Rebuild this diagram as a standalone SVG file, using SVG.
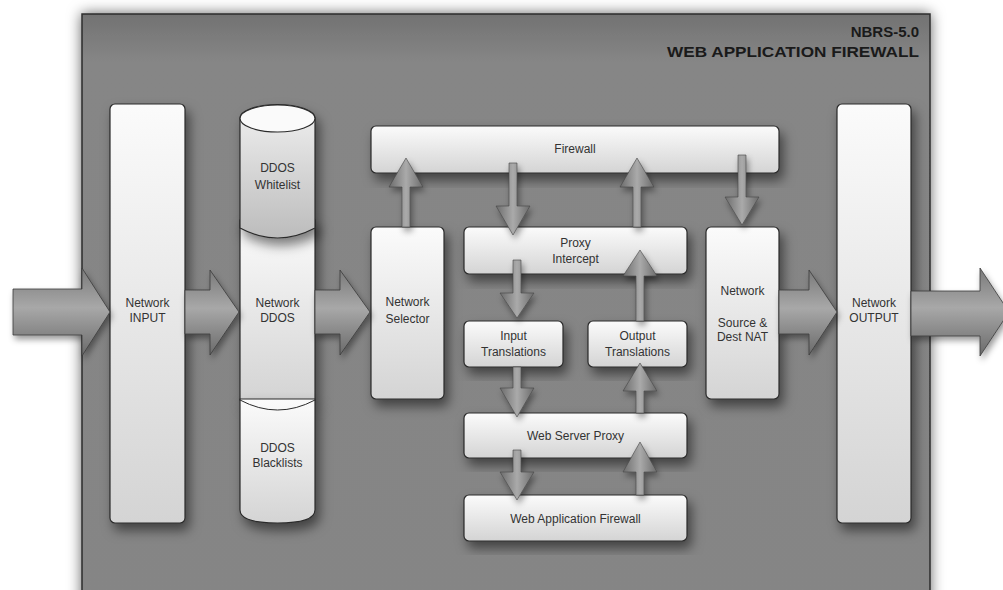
<svg xmlns="http://www.w3.org/2000/svg" width="1003" height="590" viewBox="0 0 1003 590">
<defs>
<style>
.box{fill:url(#boxg);stroke:#2a2a2a;stroke-width:1.2;filter:url(#sh)}
.lbl{font-family:"Liberation Sans",Arial,sans-serif;font-size:12px;fill:#333;text-anchor:middle}
.big{fill:url(#bigg);stroke:#3a3a3a;stroke-width:0.8;filter:url(#ash)}
.sm{fill:url(#smg);stroke:#444;stroke-width:0.6;filter:url(#ash)}
.title{font-family:"Liberation Sans",Arial,sans-serif;font-weight:bold;font-size:15px;fill:#1a1a1a;text-anchor:end}
</style>
<linearGradient id="boxg" x1="0" y1="0" x2="0" y2="1">
<stop offset="0" stop-color="#fbfbfb"/><stop offset="1" stop-color="#d4d4d4"/>
</linearGradient>
<linearGradient id="wlg" x1="0" y1="0" x2="0" y2="1">
<stop offset="0" stop-color="#f0f0f0"/><stop offset="1" stop-color="#bcbcbc"/>
</linearGradient>
<linearGradient id="panelg" x1="0" y1="0" x2="0" y2="1">
<stop offset="0" stop-color="#727272"/><stop offset="0.08" stop-color="#868686"/><stop offset="1" stop-color="#858585"/>
</linearGradient>
<linearGradient id="bigg" x1="0" y1="0" x2="0" y2="1">
<stop offset="0" stop-color="#7a7a7a"/><stop offset="0.45" stop-color="#a8a8a8"/><stop offset="1" stop-color="#6a6a6a"/>
</linearGradient>
<linearGradient id="smg" x1="0" y1="0" x2="1" y2="0">
<stop offset="0" stop-color="#6c6c6c"/><stop offset="0.5" stop-color="#aaaaaa"/><stop offset="1" stop-color="#6c6c6c"/>
</linearGradient>
<filter id="sh" x="-30%" y="-30%" width="160%" height="160%">
<feDropShadow dx="4" dy="7" stdDeviation="6" flood-color="#000" flood-opacity="0.5"/>
</filter>
<filter id="ash" x="-30%" y="-30%" width="160%" height="160%">
<feDropShadow dx="2" dy="4" stdDeviation="3" flood-color="#000" flood-opacity="0.4"/>
</filter>
<filter id="psh" x="-10%" y="-10%" width="120%" height="120%">
<feDropShadow dx="0" dy="0" stdDeviation="7" flood-color="#000" flood-opacity="0.6"/>
</filter>
</defs>
<rect width="1003" height="590" fill="#ffffff"/>
<g id="panel">
<rect x="82" y="14" width="848" height="600" fill="url(#panelg)" stroke="#2e2e2e" stroke-width="1.5" filter="url(#psh)"/>
<text class="title" x="919" y="37">NBRS-5.0</text>
<text class="title" x="919" y="57" textLength="252" lengthAdjust="spacingAndGlyphs">WEB APPLICATION FIREWALL</text>
</g>
<g id="network-input">
<rect class="box" x="110" y="104" width="75" height="419" rx="5"/>
<text class="lbl" x="147.5" y="307">Network</text>
<text class="lbl" x="147.5" y="322">INPUT</text>
</g>
<g id="network-ddos">
<rect class="box" x="240" y="220" width="75" height="180"/>
<text class="lbl" x="277.5" y="307">Network</text>
<text class="lbl" x="277.5" y="322">DDOS</text>
</g>
<g id="ddos-blacklists">
<path d="M240,399 L315,399 L315,510 Q315,523 277.5,523 Q240,523 240,510 Z" fill="url(#boxg)" stroke="#2a2a2a" stroke-width="1.2" filter="url(#sh)"/>
<path d="M240,400 Q277.5,420 315,400" fill="none" stroke="#2a2a2a" stroke-width="1"/>
<text class="lbl" x="277.5" y="452">DDOS</text>
<text class="lbl" x="277.5" y="467">Blacklists</text>
</g>
<g id="ddos-whitelist">
<path d="M240,118 A37.5,13.5 0 0 1 315,118 L315,228 Q277.5,248 240,228 Z" fill="url(#wlg)" stroke="#2a2a2a" stroke-width="1.2" filter="url(#sh)"/>
<ellipse cx="277.5" cy="118.5" rx="37.5" ry="13.5" fill="#fafafa" stroke="#2a2a2a" stroke-width="1.2"/>
<text class="lbl" x="277.5" y="172">DDOS</text>
<text class="lbl" x="277.5" y="189">Whitelist</text>
</g>
<g id="network-selector">
<rect class="box" x="371" y="227" width="73" height="172" rx="5"/>
<text class="lbl" x="407.5" y="306">Network</text>
<text class="lbl" x="407.5" y="323">Selector</text>
</g>
<g id="firewall">
<rect class="box" x="371" y="126" width="408" height="47" rx="5"/>
<text class="lbl" x="575" y="153">Firewall</text>
</g>
<g id="proxy-intercept">
<rect class="box" x="464" y="227" width="223" height="47" rx="5"/>
<text class="lbl" x="575.5" y="247">Proxy</text>
<text class="lbl" x="575.5" y="263">Intercept</text>
</g>
<g id="network-nat">
<rect class="box" x="706" y="227" width="73" height="172" rx="5"/>
<text class="lbl" x="742.5" y="295">Network</text>
<text class="lbl" x="742.5" y="327">Source &amp;</text>
<text class="lbl" x="742.5" y="341">Dest NAT</text>
</g>
<g id="input-translations">
<rect class="box" x="464" y="321" width="99" height="46" rx="5"/>
<text class="lbl" x="513.5" y="340">Input</text>
<text class="lbl" x="513.5" y="356">Translations</text>
</g>
<g id="output-translations">
<rect class="box" x="588" y="321" width="99" height="46" rx="5"/>
<text class="lbl" x="637.5" y="340">Output</text>
<text class="lbl" x="637.5" y="356">Translations</text>
</g>
<g id="web-server-proxy">
<rect class="box" x="464" y="413" width="223" height="45" rx="5"/>
<text class="lbl" x="575.5" y="440">Web Server Proxy</text>
</g>
<g id="web-application-firewall">
<rect class="box" x="464" y="495" width="223" height="46" rx="5"/>
<text class="lbl" x="575.5" y="523">Web Application Firewall</text>
</g>
<g id="network-output">
<rect class="box" x="837" y="104" width="74" height="419" rx="5"/>
<text class="lbl" x="874" y="307">Network</text>
<text class="lbl" x="874" y="322">OUTPUT</text>
</g>
<g id="connectors">
<path class="big" d="M13,289 L82,289 L82,268 L110,312 L82,356 L82,335 L13,335 Z"/>
<path class="big" d="M185,290 L210,290 L210,270 L239,312 L210,355 L210,334 L185,334 Z"/>
<path class="big" d="M315,290 L340,290 L340,270 L370,312 L340,355 L340,334 L315,334 Z"/>
<path class="big" d="M779,290 L809,290 L809,270 L837,312 L809,355 L809,334 L779,334 Z"/>
<path class="big" d="M911,291 L980,291 L980,268 L1009,312 L980,356 L980,336 L911,336 Z"/>
<path class="sm" d="M402,227 L402,187 L389,187 L406,158 L423,187 L410,187 L410,227 Z"/>
<path class="sm" d="M509,163 L517,163 L517,206 L530,206 L513,235 L496,206 L509,206 Z"/>
<path class="sm" d="M633,227 L633,187 L620,187 L637,158 L654,187 L641,187 L641,227 Z"/>
<path class="sm" d="M738,155 L746,155 L746,197 L759,197 L742,225 L725,197 L738,197 Z"/>
<path class="sm" d="M513,260 L521,260 L521,293 L534,293 L517,318 L500,293 L513,293 Z"/>
<path class="sm" d="M636,321 L636,276 L623,276 L640,250 L657,276 L644,276 L644,321 Z"/>
<path class="sm" d="M513,367 L521,367 L521,388 L534,388 L517,417 L500,388 L513,388 Z"/>
<path class="sm" d="M636,413 L636,391 L623,391 L640,363 L657,391 L644,391 L644,413 Z"/>
<path class="sm" d="M513,450 L521,450 L521,472 L534,472 L517,500 L500,472 L513,472 Z"/>
<path class="sm" d="M636,495 L636,472 L623,472 L640,442 L657,472 L644,472 L644,495 Z"/>
</g>
</svg>
